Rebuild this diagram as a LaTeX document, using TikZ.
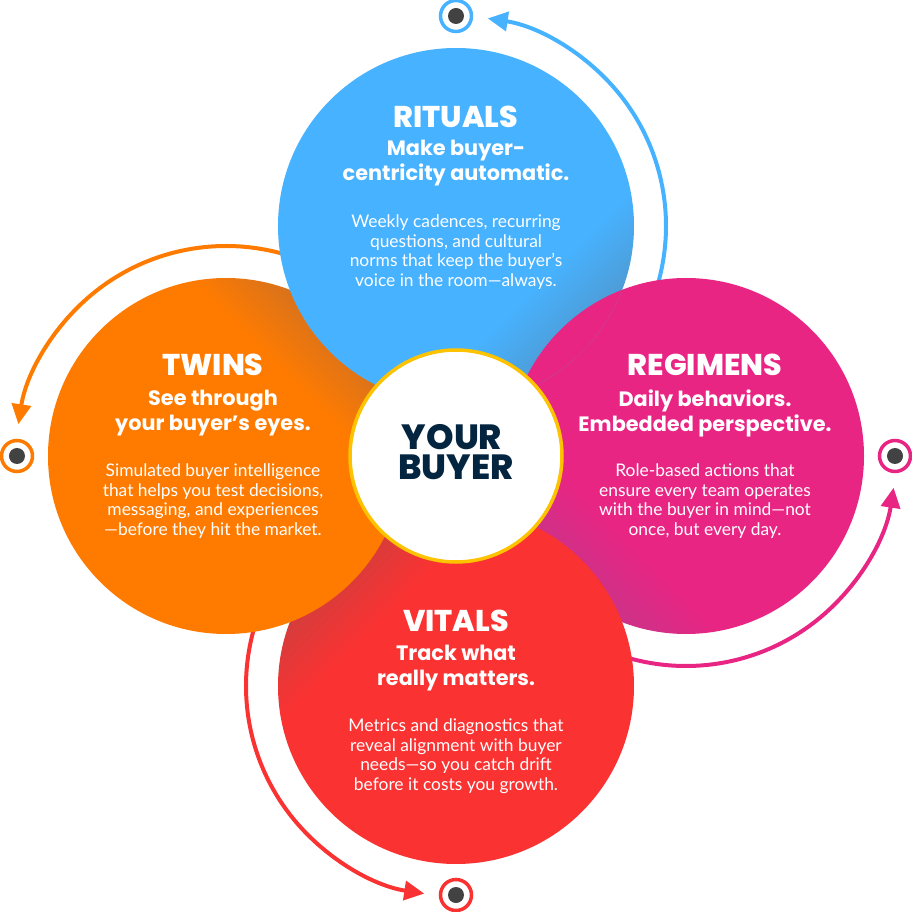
\documentclass[tikz,border=0pt]{standalone}
\usepackage{fontspec}
\setmainfont{Lato}
\newfontfamily\headfont{Poppins}
\newfontfamily\blackfont{Poppins ExtraBold}
\usetikzlibrary{arrows.meta}

\definecolor{ritualsblue}{RGB}{71,178,255}
\definecolor{ritualsdark}{RGB}{78,156,214}
\definecolor{twinsorange}{RGB}{255,123,0}
\definecolor{twinsdark}{RGB}{216,114,28}
\definecolor{vitalsred}{RGB}{251,50,50}
\definecolor{vitalsdark}{RGB}{214,60,60}
\definecolor{regimenspink}{RGB}{233,37,132}
\definecolor{regimensdark}{RGB}{204,50,135}
\definecolor{buyernavy}{RGB}{4,37,63}
\definecolor{ringyellow}{RGB}{253,195,0}
\definecolor{dotgray}{RGB}{66,66,66}

\pgfdeclareverticalshading{ritualsshade}{100bp}{color(0bp)=(ritualsblue); color(64bp)=(ritualsblue); color(73bp)=(ritualsdark); color(100bp)=(ritualsdark)}
\pgfdeclareverticalshading{twinsshade}{100bp}{color(0bp)=(twinsorange); color(64bp)=(twinsorange); color(73bp)=(twinsdark); color(100bp)=(twinsdark)}
\pgfdeclareverticalshading{vitalsshade}{100bp}{color(0bp)=(vitalsred); color(64bp)=(vitalsred); color(73bp)=(vitalsdark); color(100bp)=(vitalsdark)}
\pgfdeclareverticalshading{regimensshade}{100bp}{color(0bp)=(regimenspink); color(64bp)=(regimenspink); color(73bp)=(regimensdark); color(100bp)=(regimensdark)}

\tikzset{
  petal/.style={circle, minimum size=356pt, inner sep=0pt, shade, shading=#1},
  headtext/.style={text=white, font=\blackfont\fontsize{30}{30}\selectfont},
  subtext/.style={text=white, align=center, font=\headfont\bfseries\fontsize{20.8}{25}\selectfont},
  bodytext/.style={text=white, align=center, font=\fontsize{17.4}{19.5}\selectfont},
  buyertext/.style={text=buyernavy, align=center, font=\blackfont\fontsize{35}{30}\selectfont},
  ringdot/.style={circle, minimum size=31pt, inner sep=0pt, line width=3.5pt, fill=white},
  innerdot/.style={circle, minimum size=16pt, inner sep=0pt, fill=dotgray}
}

\begin{document}
\begin{tikzpicture}[x=1pt, y=1pt]
\useasboundingbox (-456,-456) rectangle (456,456);

% arcs go under the circles
\foreach \n/\col/\x/\y/\a in {rituals/ritualsblue/0/230/-20, twins/twinsorange/-230/0/70, vitals/vitalsred/0/-230/160, regimens/regimenspink/230/0/250} {
  \coordinate (\n arc) at (\x,\y);
  \draw [\col, line width=4pt, -{Triangle[length=20pt,width=19pt]}] (\n arc) ++(\a:210) arc [start angle=\a, delta angle=101.3, radius=210];
}

% markers at the arc ends
\foreach \n/\col/\x/\y in {rituals/ritualsblue/0/440, twins/twinsorange/-439/0, vitals/vitalsred/0/-439, regimens/regimenspink/439/0} {
  \node [ringdot, draw=\col] (\n mark) at (\x,\y) {};
  \node [innerdot] (\n dot) at (\x,\y) {};
}

\node [petal=regimensshade, shading angle=135] (regimens) at (230,0) {};
\node [petal=vitalsshade, shading angle=45] (vitals) at (0,-230) {};
\node [petal=twinsshade, shading angle=-45] (twins) at (-230,0) {};
\node [petal=ritualsshade, shading angle=-135] (rituals) at (0,230) {};
% pink again over the blue
\begin{scope}
\clip (0,230) circle (178);
\node [petal=regimensshade, shading angle=135] (regimenslap) at (230,0) {};
\end{scope}

\node [circle, minimum size=212pt, inner sep=0pt, fill=white, draw=ringyellow, line width=3.5pt] (buyer) at (0,0) {};
\node [buyertext] (buyerlabel) at (0,4) {YOUR\hspace*{8pt}\\BUYER};

\node [headtext] (ritualshead) at (0,339) {RITUALS};
\node [subtext] (ritualssub) at (0,293) {Make buyer-\\centricity automatic.};
\node [bodytext] (ritualsbody) at (0,204) {Weekly cadences, recurring\\questions, and cultural\\norms that keep the buyer’s\\voice in the room—always.};

\node [headtext] (twinshead) at (-243,91) {TWINS};
\node [subtext] (twinssub) at (-243,43) {See through\\your buyer’s eyes.};
\node [bodytext] (twinsbody) at (-243,-45) {Simulated buyer intelligence\\that helps you test decisions,\\messaging, and experiences\\—before they hit the market.};

\node [headtext] (regimenshead) at (249,91) {REGIMENS};
\node [subtext] (regimenssub) at (249,43) {Daily behaviors.\\Embedded perspective.};
\node [bodytext] (regimensbody) at (249,-45) {Role-based actions that\\ensure every team operates\\with the buyer in mind—not\\once, but every day.};

\node [headtext] (vitalshead) at (0,-165) {VITALS};
\node [subtext] (vitalssub) at (0,-212) {Track what\\really matters.};
\node [bodytext] (vitalsbody) at (0,-300) {Metrics and diagnostics that\\reveal alignment with buyer\\needs—so you catch drift\\before it costs you growth.};
\end{tikzpicture}
\end{document}
